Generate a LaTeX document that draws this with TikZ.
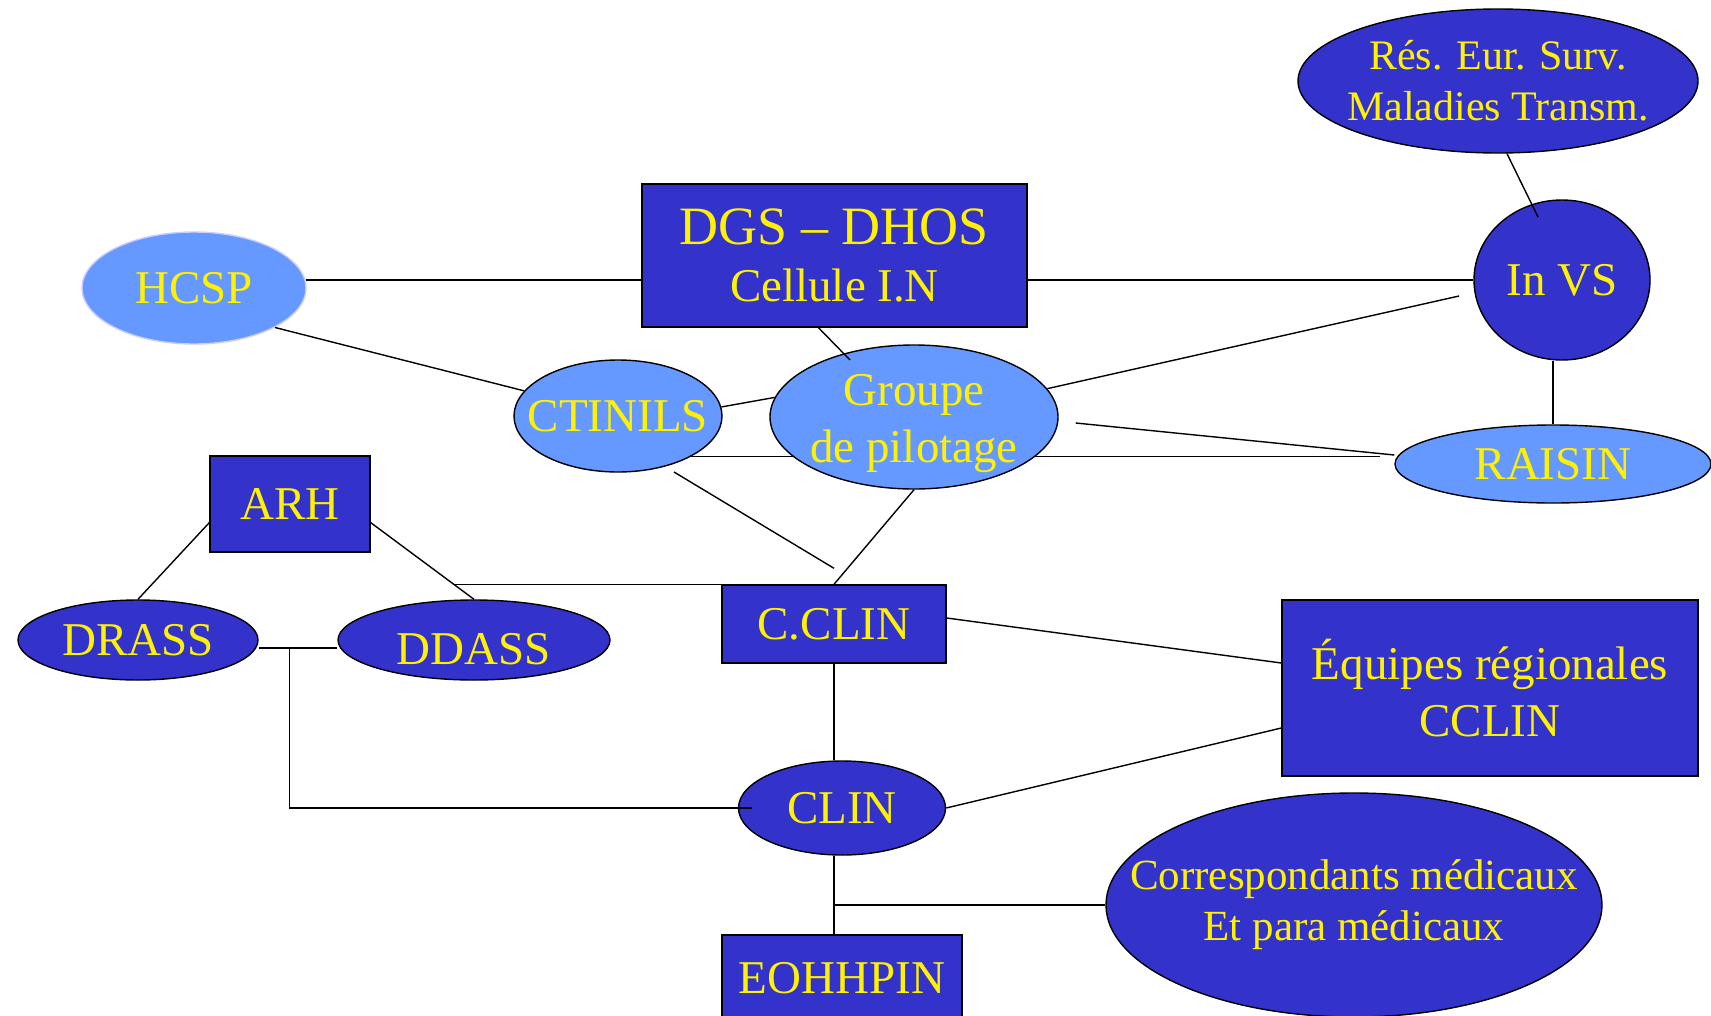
\documentclass[tikz,border=0pt]{standalone}
\usepackage{fontspec}
\setmainfont{Liberation Serif}
\usetikzlibrary{shapes.geometric,backgrounds}

\begin{document}
\begin{tikzpicture}[x=1pt, y=-1pt, line width=1.4pt,
    darkbox/.style={rectangle, draw=black, fill=darkshell, text=yellow, inner sep=0pt, align=center, font=\fontsize{47}{57}\selectfont},
    darkoval/.style={ellipse, draw=black, fill=darkshell, text=yellow, inner xsep=-60pt, inner ysep=-20pt, align=center, font=\fontsize{47}{57}\selectfont},
    lightoval/.style={darkoval, fill=lightshell}]
  % Define colors
  \definecolor{darkshell}{HTML}{3333CC}
  \definecolor{lightshell}{HTML}{6699FF}
  \definecolor{paleborder}{HTML}{CCCCFF}

  \useasboundingbox (0,0) rectangle (1711,1015);

  % Top nodes
  \node[darkoval, minimum width=400pt, minimum height=144pt, font=\fontsize{42}{51}\selectfont] (res) at (1498,81) {Rés. Eur. Surv.\\Maladies Transm.};
  \node[darkoval, minimum width=176pt, minimum height=160pt] (invs) at (1562,280) {In VS};
  \node[lightoval, minimum width=316pt, minimum height=78pt] (raisin) at (1553,464) {RAISIN};
  \node[darkbox, minimum width=385pt, minimum height=143pt] (dgs) at (834.5,255.5) {\fontsize{54}{62}\selectfont DGS -- DHOS\\\fontsize{47}{57}\selectfont Cellule I.N};
  \node[lightoval, draw=paleborder, minimum width=224pt, minimum height=112pt] (hcsp) at (194,288) {HCSP};
  \node[lightoval, minimum width=208pt, minimum height=112pt] (ctinils) at (618,416) {CTINILS};
  \node[lightoval, minimum width=288pt, minimum height=144pt, text height=102pt] (groupe) at (914,417) {Groupe\\de pilotage};

  % Left and bottom nodes
  \node[darkbox, minimum width=160pt, minimum height=96pt] (arh) at (290,504) {ARH};
  \node[darkoval, minimum width=240pt, minimum height=80pt] (drass) at (138,640) {DRASS};
  \node[darkoval, minimum width=272pt, minimum height=80pt, text height=49pt, text depth=0pt] (ddass) at (474,640) {DDASS};
  \node[darkbox, minimum width=224pt, minimum height=78pt] (cclin) at (834,624) {C.CLIN};
  \node[darkbox, minimum width=416pt, minimum height=176pt] (equipes) at (1490,688) {Équipes régionales\\CCLIN};
  \node[darkoval, minimum width=207pt, minimum height=94pt] (clin) at (842,808) {CLIN};
  \node[darkoval, minimum width=496pt, minimum height=224pt, font=\fontsize{43}{51}\selectfont] (corr) at (1354,905) {Correspondants médicaux\\Et para médicaux};
  \node[darkbox, minimum width=240pt, minimum height=86pt] (eohhpin) at (842,978) {EOHHPIN};

  % Links at the top
  \draw ([shift={(9,0)}]res.south) -- ([shift={(-24,-63)}]invs.center);
  \draw (raisin.north |- invs.south) -- (raisin.north);
  \draw (dgs.east |- invs.west) -- (invs.west);
  \draw (hcsp.4) -- (hcsp.4 -| dgs.west);
  \draw (hcsp.-26) -- (ctinils.165);
  \draw ([shift={(-16,0)}]dgs.south) -- ([shift={(-64,-57)}]groupe.center);
  \draw (ctinils.5) -- (groupe.172);
  \draw (groupe.12) -- ([shift={(-103,16)}]invs.center);
  \draw ([shift={(17,6)}]groupe.east) -- ([shift={(0,-9)}]raisin.west);
  \begin{scope}[on background layer]
    \draw ([shift={(73,40)}]ctinils.center) -- ([shift={(-14,-8)}]raisin.west);
  \end{scope}
  \draw ([shift={(56,56)}]ctinils.center) -- ([shift={(0,-16)}]cclin.north);
  \draw (groupe.south) -- (cclin.north);

  % Links on the left
  \draw (arh.-167) -- (drass.north);
  \draw (arh.-13) -- coordinate[pos=0.8] (arhj) (ddass.north);
  \draw (cclin.north west) -- (cclin.north west -| arhj);
  \draw ([shift={(0,8)}]drass.east) -- coordinate[pos=0.39] (drassj) ([shift={(0,8)}]ddass.west);
  \draw (drassj) |- ([shift={(14,0)}]clin.west);

  % Links at the bottom
  \draw (cclin.south) -- (cclin.south |- clin.north);
  \draw ([shift={(0,-6)}]cclin.east) -- ([shift={(0,-25)}]equipes.west);
  \draw (clin.east) -- ([shift={(0,40)}]equipes.west);
  \draw (clin.south -| cclin.south) -- (eohhpin.north -| cclin.south);
  \draw (corr.west -| cclin.south) -- (corr.west);
\end{tikzpicture}
\end{document}
